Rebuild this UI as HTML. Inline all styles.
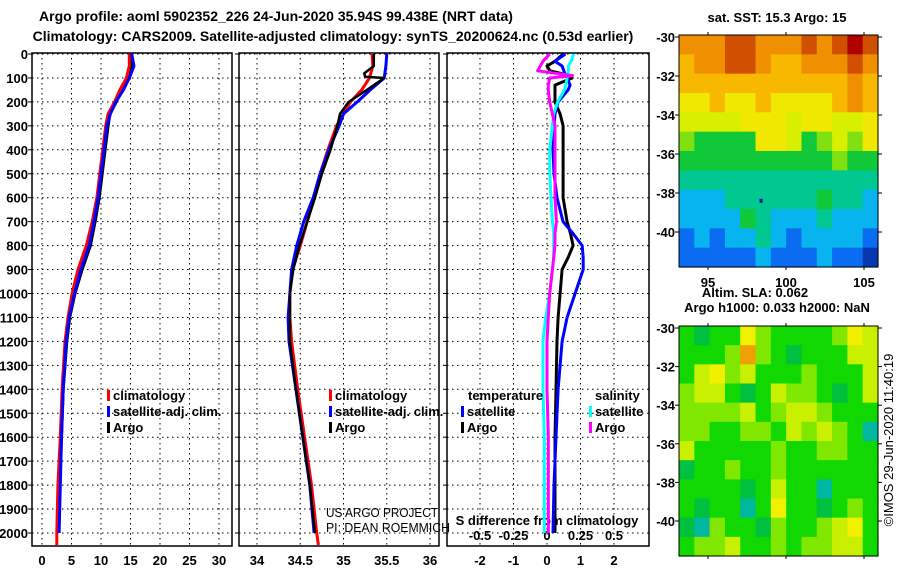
<!DOCTYPE html>
<html><head><meta charset="utf-8"><style>
html,body{margin:0;padding:0;background:#fff;}
svg{display:block;font-family:"Liberation Sans",Arial,sans-serif;}
.b{font-weight:bold;font-size:13px;}
</style></head><body>
<svg id="c" width="900" height="580" viewBox="0 0 900 580">
<defs>
<clipPath id="cp1"><rect x="32" y="53" width="200" height="493"/></clipPath>
<clipPath id="cp2"><rect x="239" y="53" width="200" height="493"/></clipPath>
<clipPath id="cp3"><rect x="447" y="53" width="202" height="493"/></clipPath>
</defs>
<text x="276" y="21" text-anchor="middle" font-size="14" font-weight="bold">Argo profile: aoml 5902352_226 24-Jun-2020 35.94S 99.438E (NRT data)</text>
<text x="333" y="41" text-anchor="middle" font-size="14" font-weight="bold">Climatology: CARS2009. Satellite-adjusted climatology: synTS_20200624.nc (0.53d earlier)</text>
<text x="777" y="22" text-anchor="middle" class="b">sat. SST: 15.3 Argo: 15</text>
<text x="755" y="297" text-anchor="middle" class="b">Altim. SLA: 0.062</text>
<text x="777" y="312" text-anchor="middle" class="b">Argo h1000: 0.033 h2000: NaN</text>
<text transform="translate(893,440) rotate(-90)" text-anchor="middle" font-size="13">©IMOS 29-Jun-2020 11:40:19</text>
<text x="326" y="517" font-size="13" textLength="112" lengthAdjust="spacingAndGlyphs">US ARGO PROJECT</text>
<text x="326" y="532" font-size="13" textLength="124" lengthAdjust="spacingAndGlyphs">PI: DEAN ROEMMICH</text>
<g id="g"></g>
</svg>
<script>
// ---- data ----
const depthTicks=[0,100,200,300,400,500,600,700,800,900,1000,1100,1200,1300,1400,1500,1600,1700,1800,1900,2000];
const tTicks=[0,5,10,15,20,25,30];
const sTicks=[34,34.5,35,35.5,36];
const sTickLabels=['34','34.5','35','35.5','36'];
const dTicks=[-2,-1,0,1,2];
const sdTicks=[-0.5,-0.25,0,0.25,0.5];
const sdTickLabels=['-0.5','-0.25','0','0.25','0.5'];

const climDepth=[0,50,100,150,200,250,300,400,500,600,700,800,900,1000,1100,1200,1400,1600,1800,2000,2050];
const tClim=[14.8,14.8,14.3,13.2,12.3,11.2,10.8,10.3,9.8,9.3,8.5,7.5,6.1,5.1,4.4,3.9,3.4,3.1,2.7,2.5,2.5];
const satDepth=[0,50,100,150,200,250,300,400,500,600,700,800,900,1000,1100,1200,1400,1600,1800,2000];
const tSat=[15.2,15.6,14.8,13.8,12.5,11.6,11.0,10.5,10.0,9.5,8.8,8.0,6.6,5.5,4.6,4.1,3.6,3.3,3.1,2.9];
const argoDepth=[0,50,80,95,100,150,200,250,300,400,500,600,700,800,900,1000,1100,1200,1400,1600,1800,2000];
const tArgo=[15.0,15.2,15.0,14.9,14.6,13.5,12.6,11.5,11.2,10.7,10.2,9.7,9.0,8.2,6.8,5.6,4.7,4.2,3.6,3.3,3.0,2.8];

const sClim=[35.33,35.34,35.30,35.21,35.08,35.00,34.92,34.82,34.73,34.66,34.58,34.50,34.41,34.38,34.38,34.40,34.47,34.55,34.63,34.69,34.71];
const sSat=[35.50,35.49,35.47,35.31,35.16,35.00,34.95,34.83,34.73,34.65,34.54,34.46,34.40,34.38,34.36,34.37,34.45,34.53,34.61,34.66];
const sArgo=[35.35,35.35,35.24,35.25,35.47,35.27,35.06,34.96,34.93,34.85,34.75,34.67,34.58,34.49,34.42,34.38,34.38,34.38,34.45,34.53,34.61,34.67];

const diffDepth=[0,30,50,70,90,100,130,150,200,250,300,400,500,600,700,750,800,850,900,1000,1100,1200,1400,1600,1800,2000];
const tDiffSat=[0.55,0.24,0.45,0.5,0.55,0.6,0.69,0.63,0.33,0.24,0.21,0.18,0.21,0.3,0.48,0.78,1.05,1.08,1.08,0.84,0.6,0.45,0.33,0.27,0.21,0.18];
const tDiffArgo=[0.48,0.24,0,0.09,0.69,0.75,0.24,0.24,0.24,0.39,0.48,0.48,0.48,0.48,0.6,0.7,0.78,0.63,0.45,0.39,0.33,0.3,0.27,0.24,0.24,0.24];
const sDiffSat=[0.2,0.18,0.16,0.16,0.15,0.15,0.14,0.13,0.08,0.05,0.04,0.02,0.02,0.03,0.04,0.05,0.05,0.05,0.04,0.02,-0.01,-0.03,-0.03,-0.02,-0.02,-0.02];
const sDiffArgo=[0.02,-0.03,-0.05,-0.07,0.19,0.02,0.01,0.01,0.02,0.04,0.06,0.06,0.06,0.06,0.07,0.06,0.06,0.05,0.04,0.02,0.01,0.0,0.0,0.01,0.01,0.01];

const latTicks=[-30,-32,-34,-36,-38,-40];
const lonTicks=[95,100,105];
const sstGrid=[
[9,9,9,10,10,9,9,9,10,9,10,11,10],
[8,9,9,10,10,9,8,8,9,9,9,10,9],
[8,8,8,8,8,8,8,8,8,8,8,9,8],
[7,7,8,7,7,8,7,7,7,7,8,9,8],
[6,6,6,6,7,7,7,6,7,7,6,6,7],
[5,4,4,4,4,7,7,6,4,5,6,5,7],
[4,4,4,4,4,4,4,4,4,4,5,4,4],
[3,3,3,3,3,3,3,3,3,3,3,3,3],
[2,2,2,3,3,3,3,3,3,4,3,3,2],
[2,2,2,2,4,3,2,2,2,3,2,2,2],
[1,2,1,2,2,3,2,1,2,2,2,2,1],
[1,1,1,1,1,2,1,1,1,2,1,1,0]];
const slaGrid=[
[2,1,2,2,5,3,2,2,2,2,3,5,4],
[2,2,2,3,6,3,2,1,2,2,2,4,4],
[2,4,5,3,4,2,2,2,3,2,2,2,4],
[3,4,4,2,1,2,4,3,3,2,1,2,4],
[3,3,3,3,4,2,3,4,4,3,2,2,2],
[3,3,2,2,3,3,2,4,3,4,3,2,0],
[4,2,2,2,2,2,3,2,2,3,3,2,2],
[1,2,2,3,2,2,3,2,2,2,2,2,2],
[2,2,2,2,1,2,4,2,2,0,2,2,2],
[2,1,2,2,0,2,5,2,2,1,2,3,2],
[1,0,3,2,2,1,3,2,2,3,4,5,2],
[2,3,3,4,2,2,3,2,3,3,4,4,2]];
const sstColors=['#0838b0','#0a6cf0','#08b4f0','#00c890','#10c838','#80e010','#d8f000','#f0e800','#f8b800','#f09000','#d05000','#b00000'];
const slaColors=['#00b8a0','#00c040','#10d800','#80e800','#c8f000','#f0f000','#f0a000'];
const argoLon=98.4, argoLat=-38.4;

// ---- drawing ----
const NS='http://www.w3.org/2000/svg';
const G=document.getElementById('g');
function mk(tag,attrs,parent){const e=document.createElementNS(NS,tag);for(const k in attrs)e.setAttribute(k,attrs[k]);(parent||G).appendChild(e);return e;}
const yD=d=>54+d*0.2395;
const xT=t=>42+t*5.9;
const xS=s=>257+(s-34)*86.5;
const xD=v=>547+v*33.5;
const xSd=v=>547+v*134;
const panels=[{x:32,w:200,cp:'cp1',name:'temperature-panel'},{x:239,w:200,cp:'cp2',name:'salinity-panel'},{x:447,w:202,cp:'cp3',name:'difference-panel'}];

panels.forEach((p,i)=>{
  const grp=mk('g',{});
  
  
  depthTicks.forEach(d=>{
    const l=mk('line',{x1:p.x,x2:p.x+p.w,y1:yD(d),y2:yD(d),stroke:'#000','stroke-dasharray':'1.5,3.5','stroke-width':1},grp);
    
    
    const t=mk('line',{x1:p.x-4,x2:p.x,y1:yD(d),y2:yD(d),stroke:'#000'},grp);
    
    
  });
  const xs=i==0?tTicks.map(xT):i==1?sTicks.map(xS):dTicks.map(xD);
  xs.forEach(x=>{
    const l=mk('line',{x1:x,x2:x,y1:53,y2:546,stroke:'#000','stroke-dasharray':'1.5,3.5'},grp);
    
    
  });
  const r=mk('rect',{x:p.x,y:53,width:p.w,height:493,fill:'none',stroke:'#000','stroke-width':1.5},grp);
  
  
});
depthTicks.forEach(d=>{
  const t=mk('text',{x:28,y:yD(d)+5,'text-anchor':'end',class:'b'});
  t.textContent=d;
  
  
});
function xlab(x,y,s,name){const t=mk('text',{x:x,y:y,'text-anchor':'middle',class:'b'});t.textContent=s;}
tTicks.forEach(v=>xlab(xT(v),565,String(v),'temperature-tick-label'));
sTicks.forEach((v,i)=>xlab(xS(v),565,sTickLabels[i],'salinity-tick-label'));
dTicks.forEach(v=>xlab(xD(v),565,String(v),'temp-diff-tick-label'));
sdTicks.forEach((v,i)=>xlab(xSd(v),540,sdTickLabels[i],'sal-diff-tick-label'));
xlab(547,525,'S difference from climatology','sal-diff-axis-title');

function line(depths,vals,xf,color,cp,name,w){
  const pts=depths.map((d,i)=>xf(vals[i]).toFixed(1)+','+yD(d).toFixed(1)).join(' ');
  const e=mk('polyline',{points:pts,fill:'none',stroke:color,'stroke-width':w||3,'clip-path':'url(#'+cp+')','stroke-linejoin':'round'});
  
  
}
line(argoDepth,tArgo,xT,'#000','cp1','temp-argo-line');
line(climDepth,tClim,xT,'#f00','cp1','temp-climatology-line');
line(satDepth,tSat,xT,'#00f','cp1','temp-satellite-line');
line(climDepth,sClim,xS,'#f00','cp2','sal-climatology-line');
line(satDepth,sSat,xS,'#00f','cp2','sal-satellite-line');
line(argoDepth,sArgo,xS,'#000','cp2','sal-argo-line',2.5);
line(diffDepth,tDiffArgo,xD,'#000','cp3','temp-diff-argo-line');
line(diffDepth,tDiffSat,xD,'#00f','cp3','temp-diff-satellite-line');
line(diffDepth,sDiffSat,xSd,'#0ff','cp3','sal-diff-satellite-line');
line(diffDepth,sDiffArgo,xSd,'#f0f','cp3','sal-diff-argo-line');

function legend(x,y,color,label,name){
  const g=mk('g',{});
  
  
  mk('rect',{x:x-6,y:y-10,width:3,height:11,fill:color},g);
  const t=mk('text',{x:x,y:y,class:'b'},g);t.textContent=label;
}
legend(113,400,'#f00','climatology','legend-climatology-t');
legend(113,416,'#00f','satellite-adj. clim.','legend-satellite-t');
legend(113,432,'#000','Argo','legend-argo-t');
legend(335,400,'#f00','climatology','legend-climatology-s');
legend(335,416,'#00f','satellite-adj. clim.','legend-satellite-s');
legend(335,432,'#000','Argo','legend-argo-s');
{const t=mk('text',{x:468,y:400,class:'b'});t.textContent='temperature';}
{const t=mk('text',{x:595,y:400,class:'b'});t.textContent='salinity';}
legend(467,416,'#00f','satellite','legend-temp-diff-satellite');
legend(467,432,'#000','Argo','legend-temp-diff-argo');
legend(595,416,'#0ff','satellite','legend-sal-diff-satellite');
legend(595,432,'#f0f','Argo','legend-sal-diff-argo');

// maps
function map(y0,h,lat30y,lat40y,grid,colors,name,lonLabels){
  const x0=679,w=199;
  const lonX=lo=>708+(lo-95)*15.6;
  const latY=la=>lat30y+(-30-la)*(lat40y-lat30y)/10;
  const g=mk('g',{});
  
  
  const rows=grid.length,cols=grid[0].length,cw=w/cols,ch=h/rows;
  grid.forEach((row,r)=>row.forEach((v,c)=>{
    const e=mk('rect',{x:(x0+c*cw).toFixed(2),y:(y0+r*ch).toFixed(2),width:(cw+0.6).toFixed(2),height:(ch+0.6).toFixed(2),fill:colors[v]},g);
    
    
  }));
  mk('rect',{x:x0,y:y0,width:w,height:h,fill:'none',stroke:'#000'},g);
  latTicks.forEach(la=>{
    const y=latY(la);
    mk('line',{x1:x0-4,x2:x0,y1:y,y2:y,stroke:'#000'},g);
    mk('line',{x1:x0+w,x2:x0+w+4,y1:y,y2:y,stroke:'#000'},g);
    const t=mk('text',{x:675,y:y+5,'text-anchor':'end',class:'b'},g);t.textContent=la;
    
    
  });
  lonTicks.forEach(lo=>{
    const x=lonX(lo);
    mk('line',{x1:x,x2:x,y1:y0-3,y2:y0,stroke:'#000'},g);
    mk('line',{x1:x,x2:x,y1:y0+h,y2:y0+h+3,stroke:'#000'},g);
    if(lonLabels){const t=mk('text',{x:x,y:y0+h+20,'text-anchor':'middle',class:'b'},g);t.textContent=lo;
      
      }
  });
  return {lonX,latY};
}
const m1=map(35,232,37,232,sstGrid,sstColors,'sst-map',true);
const dot=mk('rect',{x:m1.lonX(argoLon)-1.5,y:m1.latY(argoLat)-2,width:3,height:4,fill:'#0010a0'});


map(326,230,328,521,slaGrid,slaColors,'sla-map',false);
</script>
</body></html>
